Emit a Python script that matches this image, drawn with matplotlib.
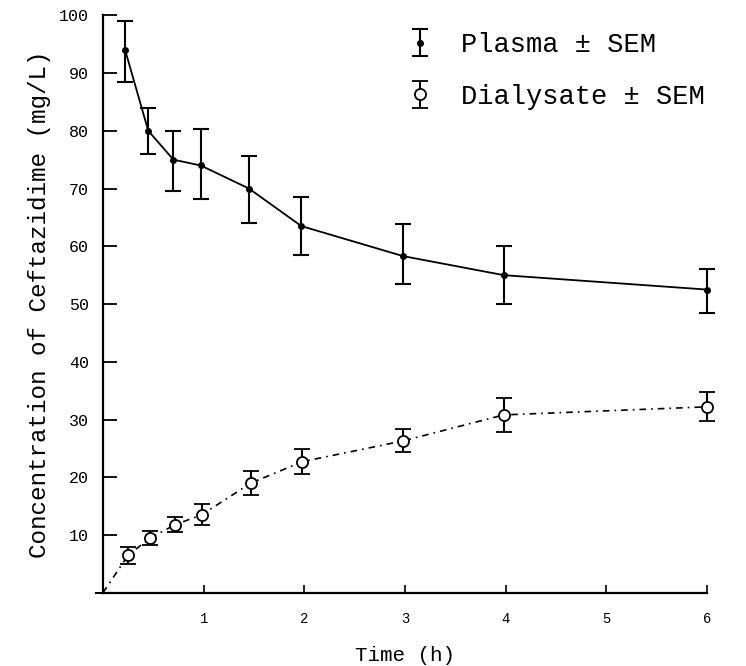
import matplotlib

matplotlib.use("Agg")
import matplotlib.pyplot as plt

plt.rcParams["font.family"] = ["Liberation Mono", "DejaVu Sans Mono"]

# Plasma concentration (mean, SEM lower/upper)
plasma_t = [0.22, 0.45, 0.7, 0.97, 1.45, 1.97, 2.98, 3.98, 6.0]
plasma_c = [94.0, 80.0, 75.0, 74.0, 70.0, 63.5, 58.3, 55.0, 52.5]
plasma_lo = [5.5, 4.0, 5.5, 5.8, 6.0, 5.0, 4.8, 5.0, 4.0]
plasma_hi = [5.0, 4.0, 5.0, 6.3, 5.7, 5.0, 5.5, 5.0, 3.5]

# Dialysate concentration (starts from origin)
dial_t = [0.0, 0.25, 0.47, 0.72, 0.98, 1.47, 1.98, 2.98, 3.98, 6.0]
dial_c = [0.0, 6.5, 9.5, 11.8, 13.5, 19.0, 22.7, 26.3, 30.8, 32.2]
dial_err = [0.0, 1.5, 1.2, 1.3, 1.8, 2.0, 2.2, 2.0, 3.0, 2.5]

y_ticks = [10, 20, 30, 40, 50, 60, 70, 80, 90, 100]
x_ticks = [1, 2, 3, 4, 5, 6]

fig = plt.figure(figsize=(7.46, 6.66), dpi=100)
ax = fig.add_axes([0.138, 0.110, 0.810, 0.867])

h1 = ax.errorbar(plasma_t, plasma_c, yerr=[plasma_lo, plasma_hi], color="black",
                 lw=1.3, marker="o", ms=4, mfc="black", elinewidth=1.5,
                 capsize=6, capthick=1.5)
h2 = ax.errorbar(dial_t, dial_c, yerr=dial_err, color="black", lw=1.2,
                 dashes=(4, 3, 1, 3), marker="o", ms=8, mfc="white", mew=1.3,
                 markevery=list(range(1, len(dial_t))), elinewidth=1.5,
                 capsize=6, capthick=1.5)
# let the bars at t = 6 show in full
for cont in (h1, h2):
    for art in cont.get_children():
        art.set_clip_on(False)

ax.set_xlim(0, 6)
ax.set_ylim(0, 100)
ax.set_xticks(x_ticks)
ax.set_yticks(y_ticks)
ax.tick_params(axis="y", direction="in", length=10, width=1.3, labelsize=12, pad=10)
ax.tick_params(axis="x", direction="in", length=6, width=1.2, labelsize=10, pad=14)
for s in ["top", "right"]:
    ax.spines[s].set_visible(False)
for s in ["left", "bottom"]:
    ax.spines[s].set_linewidth(1.6)

ax.set_ylabel("Concentration of Ceftazidime (mg/L)", fontsize=17.5, labelpad=6)
ax.set_xlabel("Time (h)", fontsize=15, labelpad=14)

ax.legend([h1, h2], ["Plasma ± SEM", "Dialysate ± SEM"], loc="upper left",
          bbox_to_anchor=(0.545, 0.972), bbox_transform=fig.transFigure,
          frameon=False, fontsize=19.5, handlelength=0.0, handletextpad=1.5,
          labelspacing=0.95, borderpad=0.0)

fig.savefig("out.png", dpi=100, facecolor="white")
